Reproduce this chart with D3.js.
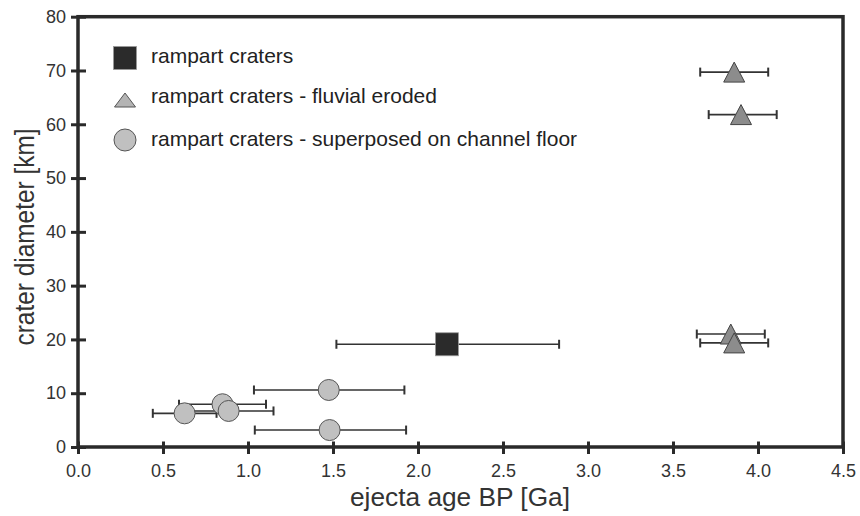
<!DOCTYPE html>
<html>
<head>
<meta charset="utf-8">
<script src="https://cdn.jsdelivr.net/npm/d3@7"></script>
<style>
  body { margin: 0; background: #fff; }
  text { font-family: "Liberation Sans", Arial, sans-serif; }
</style>
</head>
<body>
<div id="chart-area"></div>
<script>
// data: ejecta age (Ga) with min/max, crater diameter (km)
const squareAge = [2.17]
const squareAgeMin = [1.52]
const squareAgeMax = [2.83]
const squareDiam = [19.1]

const triangleAge = [3.86, 3.90, 3.84, 3.86]
const triangleAgeMin = [3.66, 3.71, 3.64, 3.66]
const triangleAgeMax = [4.06, 4.11, 4.04, 4.06]
const triangleDiam = [69.7, 61.8, 21.0, 19.35]

const circleAge = [1.475, 1.48, 0.85, 0.886, 0.627]
const circleAgeMin = [1.035, 1.04, 0.594, 0.62, 0.44]
const circleAgeMax = [1.92, 1.93, 1.106, 1.15, 0.815]
const circleDiam = [10.6, 3.15, 7.95, 6.7, 6.26]

const xTicks = [0, 0.5, 1, 1.5, 2, 2.5, 3, 3.5, 4, 4.5]
const yTicks = [0, 10, 20, 30, 40, 50, 60, 70, 80]
const legendLabels = [
  "rampart craters",
  "rampart craters - fluvial eroded",
  "rampart craters - superposed on channel floor"
]

const MARGIN = { LEFT: 78, RIGHT: 17, TOP: 16.7, BOTTOM: 69 }
const WIDTH = 860 - MARGIN.LEFT - MARGIN.RIGHT
const HEIGHT = 516 - MARGIN.TOP - MARGIN.BOTTOM

const svg = d3.select("#chart-area").append("svg")
  .attr("width", 860)
  .attr("height", 516)
const g = svg.append("g")
  .attr("transform", `translate(${MARGIN.LEFT}, ${MARGIN.TOP})`)

// Scales
const x = d3.scaleLinear()
  .domain([0, 4.5])
  .range([0, WIDTH])
const y = d3.scaleLinear()
  .domain([0, 80])
  .range([HEIGHT, 0])

const build = (age, lo, hi, diam) => age.map((a, i) => ({ age: a, lo: lo[i], hi: hi[i], diam: diam[i] }))
const squares = build(squareAge, squareAgeMin, squareAgeMax, squareDiam)
const triangles = build(triangleAge, triangleAgeMin, triangleAgeMax, triangleDiam)
const circles = build(circleAge, circleAgeMin, circleAgeMax, circleDiam)

// Error bars (drawn first, under the markers)
const allPoints = squares.concat(triangles, circles)
const bars = g.append("g")
  .attr("stroke", "#333")
  .attr("stroke-width", 1.6)
bars.selectAll(".bar").data(allPoints).enter().append("line")
  .attr("x1", d => x(d.lo))
  .attr("x2", d => x(d.hi))
  .attr("y1", d => y(d.diam))
  .attr("y2", d => y(d.diam))
bars.selectAll(".capL").data(allPoints).enter().append("line")
  .attr("x1", d => x(d.lo)).attr("x2", d => x(d.lo))
  .attr("y1", d => y(d.diam) - 4.5).attr("y2", d => y(d.diam) + 4.5)
  .attr("stroke-width", 2)
bars.selectAll(".capR").data(allPoints).enter().append("line")
  .attr("x1", d => x(d.hi)).attr("x2", d => x(d.hi))
  .attr("y1", d => y(d.diam) - 4.5).attr("y2", d => y(d.diam) + 4.5)
  .attr("stroke-width", 2)

// Markers
const triPath = (w, h) => `M${-w / 2},${h / 2}L${w / 2},${h / 2}L0,${-h / 2}Z`

g.selectAll(".circ").data(circles).enter().append("circle")
  .attr("cx", d => x(d.age))
  .attr("cy", d => y(d.diam))
  .attr("r", 10.5)
  .attr("fill", "#c0c0c0")
  .attr("stroke", "#555")
  .attr("stroke-width", 1)

g.selectAll(".tri").data(triangles).enter().append("path")
  .attr("d", triPath(21, 20))
  .attr("transform", d => `translate(${x(d.age)}, ${y(d.diam)})`)
  .attr("fill", "#8c8c8c")
  .attr("stroke", "#444")
  .attr("stroke-width", 1)

g.selectAll(".sq").data(squares).enter().append("rect")
  .attr("x", d => x(d.age) - 11.5)
  .attr("y", d => y(d.diam) - 11.5)
  .attr("width", 23)
  .attr("height", 23)
  .attr("fill", "#2b2b2b")
  .attr("stroke", "#999")
  .attr("stroke-width", 0.8)

// Frame
g.append("rect")
  .attr("width", WIDTH)
  .attr("height", HEIGHT)
  .attr("fill", "none")
  .attr("stroke", "#2a2a2a")
  .attr("stroke-width", 3.5)

// X Axis
const xAxisCall = d3.axisBottom(x)
  .tickValues(xTicks)
  .tickFormat(d3.format(".1f"))
  .tickSize(7)
  .tickPadding(10)
const xAxis = g.append("g")
  .attr("transform", `translate(0, ${HEIGHT})`)
  .call(xAxisCall)
xAxis.select(".domain").remove()
xAxis.selectAll(".tick line")
  .attr("y1", -5.5)
  .attr("stroke", "#2a2a2a")
  .attr("stroke-width", 3)
xAxis.selectAll(".tick text")
  .attr("font-size", "18px")
  .attr("font-family", "Liberation Sans, Arial, sans-serif")
  .attr("fill", "#333")

// Y Axis
const yAxisCall = d3.axisLeft(y)
  .tickValues(yTicks)
  .tickSize(7)
  .tickPadding(5)
const yAxis = g.append("g")
  .call(yAxisCall)
yAxis.select(".domain").remove()
yAxis.selectAll(".tick line")
  .attr("x1", 8)
  .attr("stroke", "#2a2a2a")
  .attr("stroke-width", 3)
yAxis.selectAll(".tick text")
  .attr("font-size", "18px")
  .attr("font-family", "Liberation Sans, Arial, sans-serif")
  .attr("fill", "#333")

// Labels
svg.append("text")
  .attr("x", 460)
  .attr("y", 506)
  .attr("font-size", "25px")
  .attr("fill", "#333")
  .attr("text-anchor", "middle")
  .attr("textLength", 220)
  .attr("lengthAdjust", "spacingAndGlyphs")
  .text("ejecta age BP [Ga]")
svg.append("text")
  .attr("transform", "translate(34, 237) rotate(-90)")
  .attr("font-size", "27px")
  .attr("fill", "#333")
  .attr("text-anchor", "middle")
  .attr("textLength", 217)
  .attr("lengthAdjust", "spacingAndGlyphs")
  .text("crater diameter [km]")

// Legend
const legend = svg.append("g")
  .attr("transform", "translate(125, 0)")
legend.append("rect")
  .attr("x", -11.5).attr("y", 46.5)
  .attr("width", 23).attr("height", 23)
  .attr("fill", "#2b2b2b")
  .attr("stroke", "#999")
  .attr("stroke-width", 0.8)
legend.append("path")
  .attr("d", triPath(21, 14))
  .attr("transform", "translate(0, 100)")
  .attr("fill", "#b4b4b4")
  .attr("stroke", "#555")
  .attr("stroke-width", 1)
legend.append("circle")
  .attr("cx", 0).attr("cy", 140)
  .attr("r", 11)
  .attr("fill", "#c0c0c0")
  .attr("stroke", "#555")
  .attr("stroke-width", 1)

const legendY = [63, 103, 146]
legendLabels.forEach((label, i) => {
  legend.append("text")
    .attr("x", 26)
    .attr("y", legendY[i])
    .attr("font-size", "21px")
    .attr("fill", "#222")
    .text(label)
})
</script>
</body>
</html>
